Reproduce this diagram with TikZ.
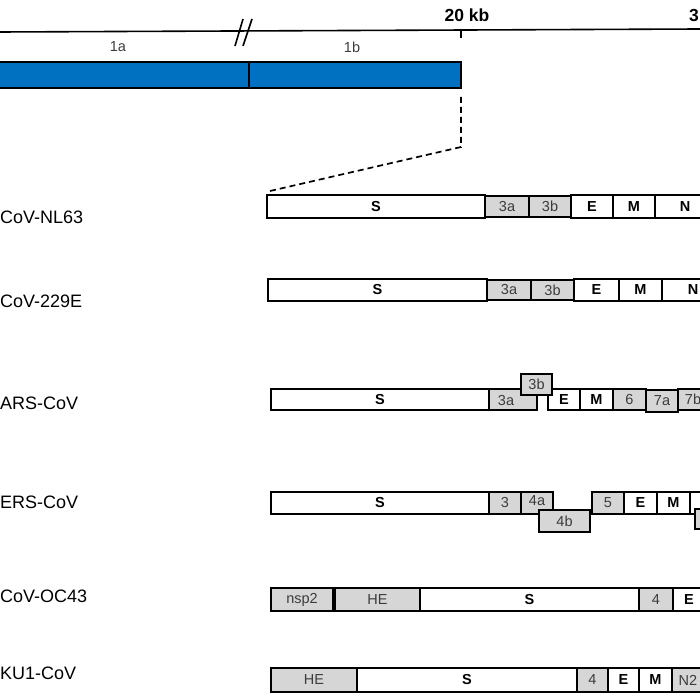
\documentclass[tikz,border=0pt]{standalone}
\usepackage{fontspec}
\setmainfont{Liberation Sans}
\usetikzlibrary{positioning}
\definecolor{orfblue}{HTML}{0070C0}
\definecolor{accgray}{HTML}{D6D6D6}
\definecolor{numgray}{HTML}{3C3C3C}
\tikzset{orf/.style = {draw, line width=2.2pt, fill=white}}
\tikzset{acc/.style = {draw, line width=1.8pt, fill=accgray}}
\tikzset{lbl/.style = {font=\fontsize{14.5}{16}\selectfont\bfseries}}
\tikzset{num/.style = {font=\fontsize{14.5}{16}\selectfont, text=numgray}}
\tikzset{virus/.style = {anchor=west, inner sep=0, font=\fontsize{18}{20}\selectfont}}
\tikzset{kb/.style = {font=\fontsize{17.5}{19}\selectfont\bfseries}}

\begin{document}
\begin{tikzpicture}[x=1pt, y=-1pt]
        \clip (0,0) rectangle (700,700);
        % genome ruler
        \draw [line width=1.6pt] (0,32)--(700,29);
        \draw [line width=1.6pt] (461,30)--(461,38);
        \draw [line width=1.6pt] (235,46)--(243,19);
        \draw [line width=1.6pt] (243,46)--(252,19);
        \node[kb] (kb20) at (467,15) {20 kb};
        \node[kb, anchor=west, inner sep=0] (kb30) at (689,15) {3};
        % replicase
        \draw [line width=1.8pt, fill=orfblue] (-5,62) rectangle (461,88);
        \draw [line width=1.8pt] (249,62)--(249,88);
        \node[num] (pp1a) at (118,47) {1a};
        \node[num] (pp1b) at (352,47) {1b};
        \coordinate (barend) at (461,97);
        \coordinate (barcorner) at (461,147);
        \coordinate (nlstart) at (270,191);
        \draw [line width=1.7pt, dash pattern=on 6pt off 4pt] (barend)--(barcorner)--(nlstart);

        % HCoV-NL63
        \node[virus] (nl63) at (0,217) {CoV-NL63};
        \draw[orf] (267,195) rectangle (485,218) node[midway, lbl] (nlS) {S};
        \draw[acc] (485,196) rectangle (529,217) node[midway, num] (nl3a) {3a};
        \draw[acc] (529,196) rectangle (571,217) node[midway, num] (nl3b) {3b};
        \draw[orf] (571,195) rectangle (613,218) node[midway, lbl] (nlE) {E};
        \draw[orf] (613,195) rectangle (655,218) node[midway, lbl] (nlM) {M};
        \draw[orf] (655,195) rectangle (715,218) node[midway, lbl] (nlN) {N};

        % HCoV-229E
        \node[virus] (e229) at (0,301) {CoV-229E};
        \draw[orf] (268,279) rectangle (487,301) node[midway, lbl] (eS) {S};
        \draw[acc] (487,280) rectangle (531,300) node[midway, num] (e3a) {3a};
        \draw[acc] (531,280) rectangle (574,300) node[midway, num] (e3b) {3b};
        \draw[orf] (574,279) rectangle (619,301) node[midway, lbl] (eE) {E};
        \draw[orf] (619,279) rectangle (662,301) node[midway, lbl] (eM) {M};
        \draw[orf] (662,279) rectangle (724,301) node[midway, lbl] (eN) {N};

        % SARS-CoV
        \node[virus] (sars) at (0,403) {ARS-CoV};
        \draw[orf] (271,389) rectangle (489,410) node[midway, lbl] (sS) {S};
        \draw[acc] (489,389) rectangle (537,410);
        \node[num] (s3a) at (506,401) {3a};
        \draw[orf] (548,389) rectangle (580,410) node[midway, lbl] (sE) {E};
        \draw[acc] (521,374) rectangle (552,395) node[midway, num] (s3b) {3b};
        \draw[orf] (580,389) rectangle (613,410) node[midway, lbl] (sM) {M};
        \draw[acc] (613,389) rectangle (646,410) node[midway, num] (s6) {6};
        \draw[acc] (646,390) rectangle (678,412) node[midway, num] (s7a) {7a};
        \draw[acc] (678,389) rectangle (708,410) node[midway, num] (s7b) {7b};

        % MERS-CoV
        \node[virus] (mers) at (0,502) {ERS-CoV};
        \draw[orf] (271,492) rectangle (489,514) node[midway, lbl] (mS) {S};
        \draw[acc] (489,492) rectangle (521,514) node[midway, num] (m3) {3};
        \draw[acc] (521,492) rectangle (553,514);
        \node[num] (m4a) at (537,501) {4a};
        \draw[acc] (539,510) rectangle (590,532) node[midway, num] (m4b) {4b};
        \draw[acc] (592,492) rectangle (624,514) node[midway, num] (m5) {5};
        \draw[orf] (624,492) rectangle (657,514) node[midway, lbl] (mE) {E};
        \draw[orf] (657,492) rectangle (690,514) node[midway, lbl] (mM) {M};
        \draw[orf] (690,492) rectangle (725,514);
        \draw[acc] (695,509) rectangle (725,529);

        % HCoV-OC43
        \node[virus] (oc43) at (0,596) {CoV-OC43};
        \draw[acc] (271,588) rectangle (333,611) node[midway, num] (onsp) {nsp2};
        \draw[acc] (335,588) rectangle (420,611) node[midway, num] (oHE) {HE};
        \draw[orf] (420,588) rectangle (639,611) node[midway, lbl] (oS) {S};
        \draw[acc] (639,588) rectangle (673,611) node[midway, num] (o4) {4};
        \draw[orf] (673,588) rectangle (705,611) node[midway, lbl] (oE) {E};

        % HKU1-CoV
        \node[virus] (hku1) at (0,673) {KU1-CoV};
        \draw[acc] (271,668) rectangle (357,692) node[midway, num] (hHE) {HE};
        \draw[orf] (357,668) rectangle (577,692) node[midway, lbl] (hS) {S};
        \draw[acc] (577,668) rectangle (608,692) node[midway, num] (h4) {4};
        \draw[orf] (608,668) rectangle (639,692) node[midway, lbl] (hE) {E};
        \draw[orf] (639,668) rectangle (672,692) node[midway, lbl] (hM) {M};
        \draw[acc] (672,668) rectangle (704,692) node[midway, num] (hN2) {N2};
\end{tikzpicture}
\end{document}
